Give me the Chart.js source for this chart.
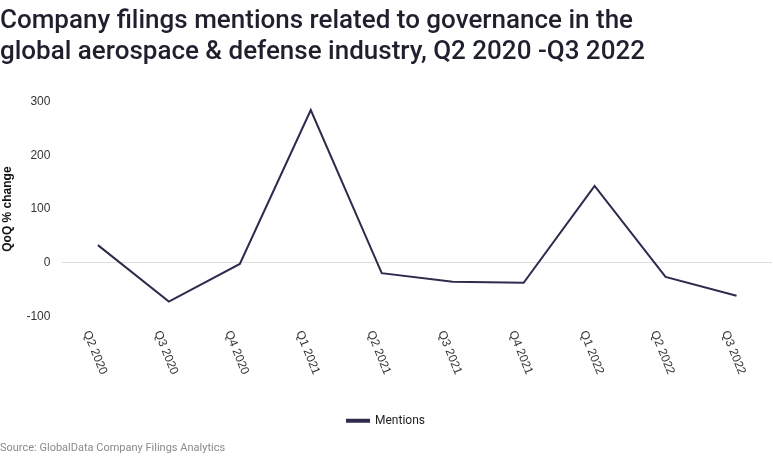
<!DOCTYPE html>
<html>
<head>
<meta charset="utf-8">
<script src="https://cdn.jsdelivr.net/npm/chart.js@4"></script>
<style>
  html, body { margin: 0; padding: 0; background: #fff; }
  #wrap { width: 773px; height: 469px; position: relative; }
</style>
</head>
<body>
<div id="wrap"><canvas id="grafica-lineas"></canvas></div>
<script>
var trimestres = ["Q2 2020", "Q3 2020", "Q4 2020", "Q1 2021", "Q2 2021", "Q3 2021", "Q4 2021", "Q1 2022", "Q2 2022", "Q3 2022"];
var menciones = [33, -72, -2, 284, -19, -35, -37, 143, -26, -61];
var ticksY = [-100, 0, 100, 200, 300];

var colorLinea = '#2e2b4d';

// etiquetas del eje x giradas en sentido horario
var etiquetasGiradas = {
  id: 'etiquetasGiradas',
  afterDraw: function(chart) {
    var ctx = chart.ctx;
    var ejeX = chart.scales.x;
    var angulo = 68 * Math.PI / 180;
    ctx.save();
    ctx.font = '12px "Liberation Sans", Arial, sans-serif';
    ctx.fillStyle = '#333';
    ctx.textAlign = 'center';
    ctx.textBaseline = 'middle';
    trimestres.forEach(function(lbl, i) {
      var x = ejeX.getPixelForTick(i) - 3;
      var y = chart.chartArea.bottom + 36;
      ctx.save();
      ctx.translate(x, y);
      ctx.rotate(angulo);
      ctx.fillText(lbl, 0, 0);
      ctx.restore();
    });
    ctx.restore();
  }
};

var graficalineascontexto = document.getElementById("grafica-lineas");
var graficalineas = new Chart(graficalineascontexto, {
  type: "line",
  data: {
    labels: trimestres,
    datasets: [{
      label: "Mentions",
      data: menciones,
      borderColor: colorLinea,
      backgroundColor: colorLinea,
      borderWidth: 2,
      pointRadius: 0,
      tension: 0
    }]
  },
  options: {
    responsive: true,
    maintainAspectRatio: false,
    animation: false,
    layout: { padding: { left: 0, right: 1, top: 0, bottom: 14 } },
    scales: {
      x: {
        offset: true,
        grid: { display: false },
        border: { display: false },
        ticks: {
          color: 'transparent',
          minRotation: 68,
          maxRotation: 68,
          autoSkip: false,
          padding: 16,
          font: { size: 12, family: '"Liberation Sans", Arial, sans-serif' }
        }
      },
      y: {
        min: -100,
        max: 300,
        afterBuildTicks: function(axis) {
          axis.ticks = ticksY.map(function(v) { return { value: v }; });
        },
        grid: {
          color: function(c) { return c.tick && c.tick.value === 0 ? '#dcdcdc' : 'transparent'; },
          drawTicks: false
        },
        border: { display: false },
        ticks: {
          color: '#333',
          padding: 12,
          font: { size: 12, family: '"Liberation Sans", Arial, sans-serif' }
        },
        title: {
          display: true,
          text: 'QoQ % change',
          color: '#111',
          padding: { top: 0, bottom: 0 },
          font: { size: 12, weight: 'bold', family: '"Liberation Sans", Arial, sans-serif' }
        }
      }
    },
    plugins: {
      title: {
        display: true,
        align: 'start',
        text: ['Company filings mentions related to governance in the', 'global aerospace & defense industry, Q2 2020 -Q3 2022'],
        color: '#1f1f2e',
        padding: { top: 6, bottom: 33 },
        font: { size: 26, weight: '500', family: 'Roboto, sans-serif', lineHeight: 1.2 }
      },
      subtitle: {
        display: true,
        position: 'bottom',
        align: 'start',
        text: 'Source: GlobalData Company Filings Analytics',
        color: '#8a8a8a',
        padding: { top: 5, bottom: 0 },
        font: { size: 11, family: 'Roboto, sans-serif' }
      },
      legend: {
        position: 'bottom',
        labels: {
          boxWidth: 22,
          boxHeight: 2,
          color: '#222',
          padding: 10,
          font: { size: 12, family: 'Roboto, sans-serif' }
        }
      },
      tooltip: { enabled: false }
    }
  },
  plugins: [etiquetasGiradas]
});
</script>
</body>
</html>
